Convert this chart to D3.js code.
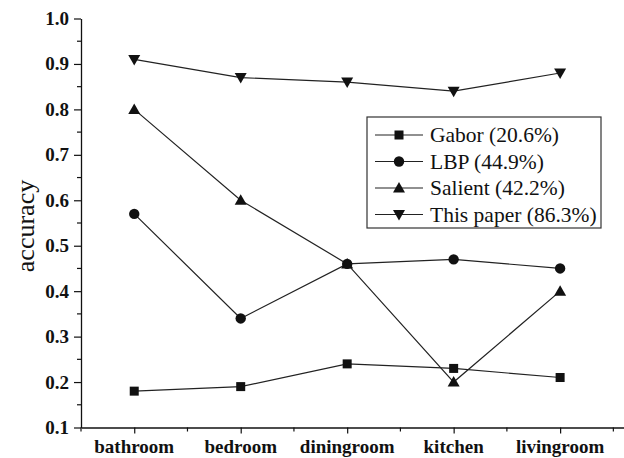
<!DOCTYPE html>
<html>
<head>
<meta charset="utf-8">
<script src="https://cdn.jsdelivr.net/npm/d3@7"></script>
<style>
  html, body { margin: 0; padding: 0; background: #fff; }
  svg { display: block; }
</style>
</head>
<body>
<svg id="chart" width="624" height="458"></svg>
<script>
// Scene categories along the x axis
const categories = ["bathroom", "bedroom", "diningroom", "kitchen", "livingroom"];

// Per-category accuracy of each method
const gabor     = [0.18, 0.19, 0.24, 0.23, 0.21];
const lbp       = [0.57, 0.34, 0.46, 0.47, 0.45];
const salient   = [0.80, 0.60, 0.46, 0.20, 0.40];
const thisPaper = [0.91, 0.87, 0.86, 0.84, 0.88];

// Legend labels (with overall accuracy)
const seriesNames = ["Gabor (20.6%)", "LBP (44.9%)", "Salient (42.2%)", "This paper (86.3%)"];
const seriesSymbols = ["square", "circle", "triangleUp", "triangleDown"];

// Y axis tick labels
const yTicks = [0.1, 0.2, 0.3, 0.4, 0.5, 0.6, 0.7, 0.8, 0.9, 1.0];

const series = [gabor, lbp, salient, thisPaper].map((values, i) => ({
  name: seriesNames[i], symbol: seriesSymbols[i], values
}));

const svg = d3.select("#chart");
const plotLeft = 81, plotRight = 624, plotTop = 18.5, plotBottom = 427.5;
const FONT = "Liberation Serif";
const BASE = 28; // glyphs are laid out at this size and scaled to the wanted size

const x = d3.scaleLinear().domain([-0.5, 4.6]).range([plotLeft, plotRight]);
const y = d3.scaleLinear().domain([0.1, 1.0]).range([plotBottom, plotTop]);

// Serif label placed with a transform
function label(tx, ty, str, size, opts = {}) {
  const k = size / BASE;
  const rot = opts.rotate ? ` rotate(${opts.rotate})` : "";
  return svg.append("text")
    .attr("transform", `translate(${tx},${ty})${rot} scale(${k})`)
    .attr("text-anchor", opts.anchor || "start")
    .attr("dy", opts.dy || null)
    .attr("font-family", FONT)
    .attr("font-size", BASE)
    .attr("font-weight", opts.weight || "normal")
    .attr("fill", "#111")
    .text(str);
}

// Marker drawing
function drawSymbol(g, kind, cx, cy) {
  const c = "#111";
  if (kind === "square") {
    g.append("rect").attr("x", cx - 4.5).attr("y", cy - 4.5)
      .attr("width", 9).attr("height", 9).attr("fill", c);
  } else if (kind === "circle") {
    g.append("circle").attr("cx", cx).attr("cy", cy).attr("r", 5.2).attr("fill", c);
  } else if (kind === "triangleUp") {
    g.append("path").attr("d", `M${cx},${cy - 6} L${cx + 6},${cy + 4.5} L${cx - 6},${cy + 4.5} Z`).attr("fill", c);
  } else {
    g.append("path").attr("d", `M${cx},${cy + 6} L${cx + 6},${cy - 4.5} L${cx - 6},${cy - 4.5} Z`).attr("fill", c);
  }
}

// Y axis (lines from d3, labels drawn separately)
const yTick = 7, yPad = 5;
const yAxis = d3.axisLeft(y).tickValues(yTicks).tickFormat("").tickSize(yTick).tickSizeOuter(0);
const gy = svg.append("g").attr("transform", `translate(${plotLeft},0)`).call(yAxis);
gy.select(".domain").attr("stroke", "#111").attr("stroke-width", 1.3);
gy.selectAll(".tick line").attr("stroke", "#111").attr("stroke-width", 1.2);
gy.selectAll(".tick text").remove();
const fmt = d3.format(".1f");
yTicks.forEach(v => label(plotLeft - yTick - yPad, y(v), fmt(v), 19, { anchor: "end", dy: "0.34em", weight: "bold" }));
// minor ticks
const yMinor = d3.range(0.15, 1.0, 0.1);
svg.append("g").selectAll("line").data(yMinor).join("line")
  .attr("x1", plotLeft - 4).attr("x2", plotLeft).attr("y1", d => y(d)).attr("y2", d => y(d))
  .attr("stroke", "#111").attr("stroke-width", 1.2);

// X axis
const xTick = 6;
const xAxis = d3.axisBottom(x).tickValues(d3.range(categories.length))
  .tickFormat("").tickSize(xTick).tickSizeOuter(0);
const gx = svg.append("g").attr("transform", `translate(0,${plotBottom})`).call(xAxis);
gx.select(".domain").attr("stroke", "#111").attr("stroke-width", 1.3);
gx.selectAll(".tick line").attr("stroke", "#111").attr("stroke-width", 1.2);
gx.selectAll(".tick text").remove();
categories.forEach((c, i) => label(x(i), plotBottom + xTick + 6, c, 19, { anchor: "middle", dy: "0.71em", weight: "bold" }));
const xMinor = d3.range(-0.5, categories.length, 1);
svg.append("g").selectAll("line").data(xMinor).join("line")
  .attr("x1", d => x(d)).attr("x2", d => x(d)).attr("y1", plotBottom).attr("y2", plotBottom + 4)
  .attr("stroke", "#111").attr("stroke-width", 1.2);

// Y axis title
label(34, 226, "accuracy", 26, { anchor: "middle", rotate: -90 });

// Lines and markers
const line = d3.line().x((d, i) => x(i)).y(d => y(d));
const plot = svg.append("g");
series.forEach(s => {
  plot.append("path").datum(s.values).attr("d", line)
    .attr("fill", "none").attr("stroke", "#222").attr("stroke-width", 1.2);
});
series.forEach(s => {
  const g = plot.append("g");
  s.values.forEach((v, i) => drawSymbol(g, s.symbol, x(i), y(v)));
});

// Legend
const lgX = 367, lgY = 117, lgW = 234, lgH = 111;
svg.append("rect").attr("x", lgX).attr("y", lgY).attr("width", lgW).attr("height", lgH)
  .attr("fill", "#fff").attr("stroke", "#333").attr("stroke-width", 1.2);
series.forEach((s, i) => {
  const cy = lgY + 18 + i * 26.5;
  svg.append("line").attr("x1", lgX + 8).attr("x2", lgX + 56).attr("y1", cy).attr("y2", cy)
    .attr("stroke", "#222").attr("stroke-width", 1.2);
  drawSymbol(svg, s.symbol, lgX + 32, cy);
  label(lgX + 63, cy + 7, s.name, 21.5);
});
</script>
</body>
</html>
